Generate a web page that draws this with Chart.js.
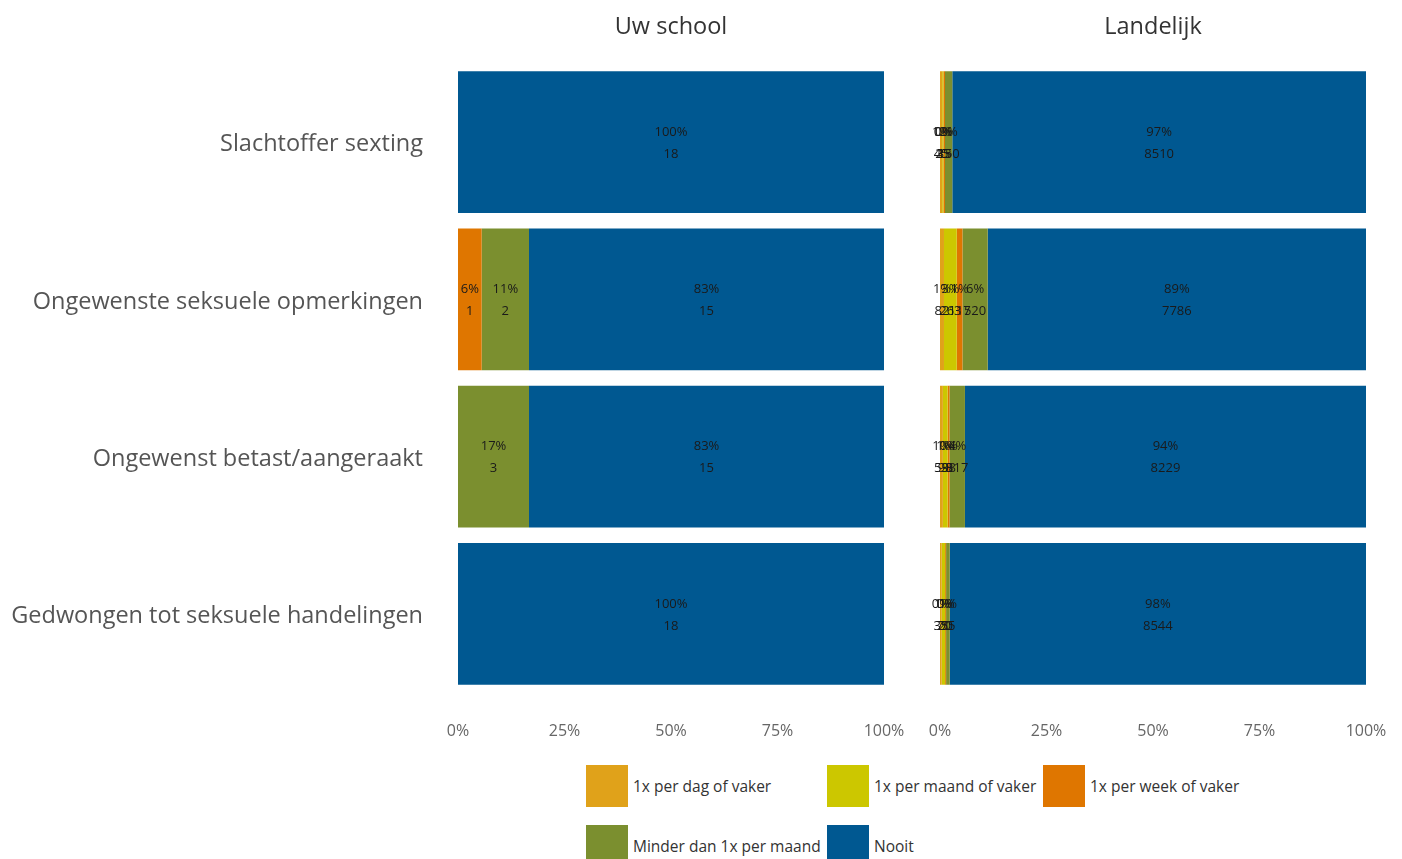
<!DOCTYPE html>
<html><head><meta charset="utf-8">
<script src="https://cdn.jsdelivr.net/npm/chart.js@4.4.1/dist/chart.umd.min.js"></script>
<style>
html,body{margin:0;padding:0;background:#fff;width:1402px;height:859px;overflow:hidden;font-family:"Open Sans",sans-serif;}
#wa{position:absolute;left:0;top:0;width:912px;height:760px;}
#wb{position:absolute;left:912px;top:0;width:490px;height:760px;}
#legend{position:absolute;left:586px;top:765px;display:grid;grid-template-columns:241px 216px 230px;row-gap:18px;}
.li{display:flex;align-items:center;height:42px;font-size:15.5px;color:#333;}
.sw{width:42px;height:42px;margin-right:5px;flex:none;}
</style></head><body>
<div id="wa"><canvas id="ca"></canvas></div>
<div id="wb"><canvas id="cb"></canvas></div>
<div id="legend"></div>
<script>
const categories = ["Slachtoffer sexting","Ongewenste seksuele opmerkingen","Ongewenst betast/aangeraakt","Gedwongen tot seksuele handelingen"];
const seriesNames = ["1x per dag of vaker","1x per maand of vaker","1x per week of vaker","Minder dan 1x per maand","Nooit"];
const seriesColors = ["#E0A21A","#CCC700","#DF7600","#7B8F2F","#005891"];
// Counts per series (order: dag, maand, week, minder, nooit), one value per category
const schoolDag    = [0,0,0,0];
const schoolMaand  = [0,0,0,0];
const schoolWeek   = [0,1,0,0];
const schoolMinder = [0,2,3,0];
const schoolNooit  = [18,15,15,18];
const landDag    = [45,82,59,35];
const landMaand  = [25,263,98,70];
const landWeek   = [33,117,38,20];
const landMinder = [150,520,317,75];
const landNooit  = [8510,7786,8229,8544];
const xTicks = [0,25,50,75,100];
const titles = ["Uw school","Landelijk"];
const FONT = '"Open Sans", sans-serif';

function build(series){
  const totals = categories.map((c,i)=>series.reduce((s,a)=>s+a[i],0));
  return series.map((arr,k)=>({
    label: seriesNames[k],
    backgroundColor: seriesColors[k],
    counts: arr,
    data: arr.map((v,i)=>v/totals[i]*100),
    barPercentage: 0.903, categoryPercentage: 1.0, borderWidth:0
  }));
}

const labelPlugin = {
  id:'segLabels',
  afterDatasetsDraw(chart){
    const ctx = chart.ctx;
    ctx.save();
    ctx.font = '13px ' + FONT;
    ctx.fillStyle = '#1a1a1a';
    ctx.textAlign = 'center';
    ctx.textBaseline = 'middle';
    chart.data.datasets.forEach((ds,di)=>{
      const meta = chart.getDatasetMeta(di);
      meta.data.forEach((bar,i)=>{
        const c = ds.counts[i];
        if(!c) return;
        const x = (bar.x + bar.base)/2;
        ctx.fillText(Math.round(ds.data[i])+'%', x, bar.y-10);
        ctx.fillText(String(c), x, bar.y+12);
      });
    });
    ctx.restore();
  }
};
const titlePlugin = {
  id:'panelTitle',
  afterDraw(chart, args, opts){
    const ctx = chart.ctx, a = chart.chartArea;
    ctx.save();
    ctx.font = '23.5px ' + FONT;
    ctx.fillStyle = '#333';
    ctx.textAlign = 'center';
    ctx.textBaseline = 'middle';
    ctx.fillText(opts.text, (a.left+a.right)/2, 27.5);
    ctx.restore();
  }
};

function makeChart(id, series, title, showY, pad){
  return new Chart(document.getElementById(id), {
    type:'bar',
    data:{labels:categories, datasets:build(series)},
    plugins:[labelPlugin,titlePlugin],
    options:{
      indexAxis:'y', responsive:true, maintainAspectRatio:false, animation:false,
      layout:{padding:pad},
      plugins:{legend:{display:false}, tooltip:{enabled:false}, panelTitle:{text:title}},
      scales:{
        x:{stacked:true, min:0, max:100,
           afterBuildTicks(s){ s.ticks = xTicks.map(v=>({value:v})); },
           afterFit(s){ s.height = 67.5; s.paddingLeft = 0; s.paddingRight = 0; },
           grid:{display:false, drawTicks:false}, border:{display:false},
           ticks:{padding:29, color:'#666', font:{size:16, family:FONT}, callback:v=>v+'%'}},
        y:{stacked:true, display:showY,
           afterFit(s){ if(showY) s.width = 458; s.paddingTop = 0; s.paddingBottom = 0; },
           grid:{display:false, drawTicks:false}, border:{display:false},
           ticks:{padding:35, labelOffset:2.5, color:'#555', font:{size:23.5, family:FONT}}}
      }
    }
  });
}
makeChart('ca',[schoolDag,schoolMaand,schoolWeek,schoolMinder,schoolNooit],titles[0],true,{top:63.5,left:0,right:28,bottom:0});
makeChart('cb',[landDag,landMaand,landWeek,landMinder,landNooit],titles[1],false,{top:63.5,left:28,right:36,bottom:0});

const lg = document.getElementById('legend');
seriesNames.forEach((n,k)=>{
  const d=document.createElement('div'); d.className='li';
  d.innerHTML='<span class="sw" style="background:'+seriesColors[k]+'"></span><span>'+n+'</span>';
  lg.appendChild(d);
});
</script>
</body></html>
